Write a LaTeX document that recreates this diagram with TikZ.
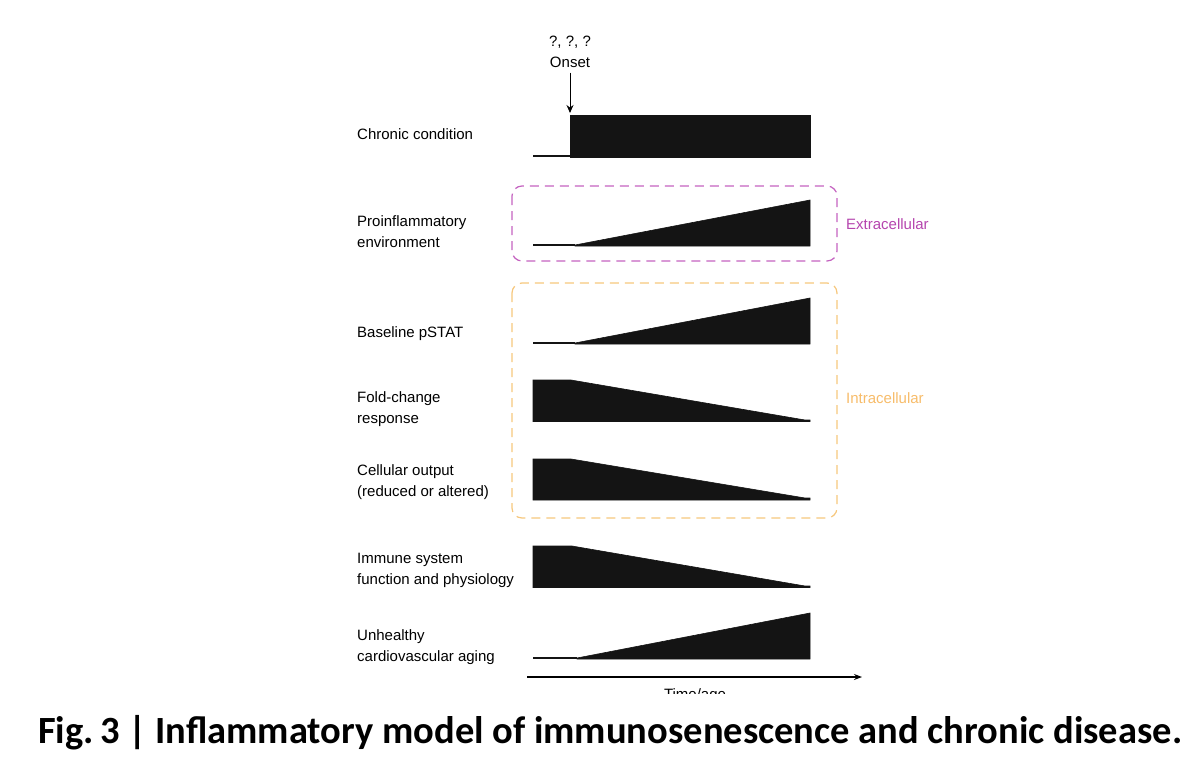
\documentclass[tikz,border=0pt]{standalone}
\usepackage{fontspec}
\setmainfont{Liberation Sans}
\newfontfamily\capfont{Carlito}
\usetikzlibrary{positioning,arrows.meta}
\definecolor{extracol}{HTML}{C462C0}
\definecolor{extratxt}{HTML}{B545AE}
\definecolor{intracol}{HTML}{F6C77D}
\definecolor{barcol}{HTML}{141414}

\begin{document}
\begin{tikzpicture}[x=1pt,y=-1pt,
	lbl/.style={anchor=west,align=left,inner sep=0pt,font=\fontsize{15}{21}\selectfont},
	bar/.style={fill=barcol,draw=barcol,line width=0.6pt,line join=miter},
	base/.style={draw=barcol,line width=2pt},
	zone/.style={dashed,dash pattern=on 9pt off 6pt,line width=1.2pt,rounded corners=10pt}]
	\useasboundingbox (0,0) rectangle (1200,760);
	% onset
	\node[lbl,anchor=center] (onset) at (570,62) {Onset};
	\node[lbl,anchor=center] (qs) at (570,42) {?, ?, ?};
	\coordinate (hit) at (570,113);
	\draw[-{Stealth[length=8pt,width=7pt]},line width=1pt,shorten <=5pt] (onset.south) -- (hit);
	% chronic condition
	\node[lbl] (chronic) at (357,134) {Chronic condition};
	\draw[base] (533,156) -- (570,156);
	\fill[bar] (570,115) rectangle (810,157);
	% extracellular
	\draw[zone,extracol] (512,186) rectangle (837,261);
	\node[lbl,text=extratxt] (extra) at (846,224) {Extracellular};
	\node[lbl] (proinf) at (357,231.5) {Proinflammatory\\environment};
	\draw[base] (533,245) -- (575,245);
	\fill[bar] (575,245) -- (810,200) -- (810,246) -- (575,246) -- cycle;
	% intracellular
	\draw[zone,intracol] (512,283) rectangle (837,518);
	\node[lbl,text=intracol!85!orange] (intra) at (846,398) {Intracellular};
	\node[lbl] (pstat) at (357,334) {Baseline pSTAT};
	\draw[base] (533,343) -- (575,343);
	\fill[bar] (575,343) -- (810,298) -- (810,344) -- (575,344) -- cycle;
	\node[lbl] (fold) at (357,409.5) {Fold-change\\response};
	\fill[bar] (533,380) -- (571,380) -- (805,420) -- (810,420) -- (810,421.5) -- (533,421.5) -- cycle;
	\node[lbl] (cell) at (357,482) {Cellular output\\(reduced or altered)};
	\fill[bar] (533,459) -- (571,459) -- (805,498) -- (810,498) -- (810,500) -- (533,500) -- cycle;
	% lower rows
	\node[lbl] (immune) at (357,570.5) {Immune system\\function and physiology};
	\fill[bar] (533,546) -- (572,546) -- (805,586) -- (810,586) -- (810,587.5) -- (533,587.5) -- cycle;
	\node[lbl] (cardio) at (357,647.5) {Unhealthy\\cardiovascular aging};
	\draw[base] (533,658) -- (577,658);
	\fill[bar] (577,658) -- (810,613) -- (810,659) -- (577,659) -- cycle;
	% time axis
	\coordinate (t0) at (527,677);
	\coordinate (t1) at (862,677);
	\draw[-{Stealth[length=8pt,width=6pt]},line width=1.1pt] (t0) -- (t1);
	\node[lbl,anchor=center] (time) at (695,696) {Time/age};
	% caption
	\fill[white] (0,694) rectangle (1200,760);
	\node[anchor=west,inner sep=0pt,font=\capfont\bfseries\fontsize{38.5}{44}\selectfont] (cap) at (38,733)
		{Fig.\,3 | Inflammatory model of immunosenescence and chronic disease.};
\end{tikzpicture}
\end{document}
